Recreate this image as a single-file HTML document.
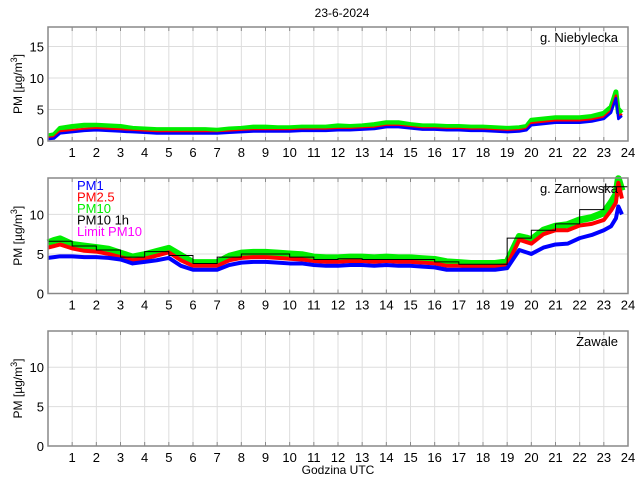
<!DOCTYPE html>
<html><head><meta charset="utf-8"><style>
body{margin:0;background:#fff;}
svg text{font-family:"Liberation Sans",sans-serif;font-size:12px;fill:#000;}
</style></head><body>
<svg id="c" width="640" height="480">
<text x="342" y="17" text-anchor="middle">23-6-2024</text>
<text x="338" y="474" text-anchor="middle">Godzina UTC</text>
</svg>
<script>
const times=[0,0.25,0.5,1,1.5,2,2.5,3,3.5,4,4.5,5,5.5,6,6.5,7,7.5,8,8.5,9,9.5,10,10.5,11,11.5,12,12.5,13,13.5,14,14.5,15,15.5,16,16.5,17,17.5,18,18.5,19,19.5,19.8,20,20.5,21,21.5,22,22.5,23,23.3,23.5,23.6,23.75];
const nPM1=[0.3,0.4,1.2,1.4,1.6,1.7,1.6,1.5,1.4,1.3,1.2,1.2,1.2,1.2,1.2,1.2,1.3,1.4,1.5,1.5,1.5,1.5,1.6,1.6,1.6,1.7,1.7,1.8,1.9,2.2,2.2,2.0,1.8,1.8,1.7,1.7,1.6,1.6,1.5,1.4,1.5,1.7,2.5,2.7,2.9,2.9,2.9,3.1,3.5,4.5,6.8,3.5,4.0];
const nPM25=[0.5,0.6,1.5,1.7,1.9,2.0,1.9,1.8,1.6,1.5,1.4,1.4,1.4,1.4,1.4,1.3,1.5,1.6,1.7,1.7,1.7,1.7,1.8,1.8,1.8,1.9,1.9,2.0,2.1,2.4,2.4,2.2,2.0,2.0,1.9,1.9,1.8,1.8,1.7,1.6,1.7,1.9,2.8,3.0,3.2,3.2,3.2,3.4,3.8,4.8,7.2,3.8,4.3];
const nPM10=[0.8,1.0,2.0,2.3,2.5,2.5,2.4,2.3,2.0,1.9,1.8,1.8,1.8,1.8,1.8,1.7,1.9,2.0,2.2,2.2,2.1,2.1,2.2,2.2,2.2,2.4,2.3,2.4,2.6,2.9,2.9,2.6,2.4,2.4,2.3,2.3,2.2,2.2,2.1,2.0,2.1,2.3,3.3,3.5,3.7,3.7,3.7,3.9,4.4,5.4,7.8,4.5,5.0];
const zPM1=[4.5,4.6,4.7,4.7,4.6,4.6,4.5,4.3,3.8,4.0,4.2,4.5,3.5,3.0,3.0,3.0,3.6,3.9,4.0,4.0,3.9,3.8,3.8,3.6,3.5,3.5,3.6,3.6,3.5,3.6,3.5,3.5,3.4,3.3,3.0,3.0,3.0,3.0,3.0,3.2,5.5,5.2,5.0,5.8,6.2,6.3,7.0,7.4,8.0,8.5,9.5,11.0,10.0];
const zPM25=[5.8,6.0,6.2,5.7,5.4,5.3,5.0,4.6,4.2,4.4,4.8,5.2,4.2,3.5,3.5,3.5,4.2,4.5,4.6,4.6,4.5,4.4,4.3,4.1,4.0,4.0,4.1,4.1,4.0,4.1,4.0,4.0,3.9,3.8,3.5,3.5,3.4,3.4,3.4,3.6,6.8,6.5,6.3,7.5,8.0,8.0,8.6,8.8,9.3,10.5,11.5,14.0,12.0];
const zPM10=[6.4,6.7,6.9,6.2,6.0,5.8,5.6,5.1,4.6,4.9,5.3,5.7,4.8,3.9,3.9,3.9,4.7,5.1,5.2,5.2,5.1,5.0,4.9,4.6,4.5,4.5,4.6,4.6,4.5,4.6,4.5,4.5,4.4,4.3,4.0,3.9,3.8,3.8,3.8,4.0,7.2,7.0,6.8,8.0,8.5,8.7,9.3,9.6,10.2,11.5,12.5,14.5,13.0];
const zHourly=[6.6,6.0,5.5,4.6,5.3,4.8,3.8,4.6,5.0,5.0,4.6,4.3,4.4,4.3,4.3,4.3,4.0,3.7,3.7,7.0,8.0,8.8,10.6,13.5];
const hourTicks=[1,2,3,4,5,6,7,8,9,10,11,12,13,14,15,16,17,18,19,20,21,22,23,24];

const NS='http://www.w3.org/2000/svg';
const svg=document.getElementById('c');
const X0=48,X1=628;
function xs(t){return X0+(X1-X0)*t/24;}
function mk(tag,attrs,parent){const e=document.createElementNS(NS,tag);for(const k in attrs)e.setAttribute(k,attrs[k]);(parent||svg).appendChild(e);return e;}

function panel(name,top,bot,ymax,yticks,label,series,hourly){
  const g=mk('g',{});
  
  
  const ys=v=>bot-(bot-top)*v/ymax;
  hourTicks.forEach(h=>{const x=xs(h);
    if(h<24){const l=mk('line',{x1:x,x2:x,y1:top,y2:bot,stroke:'#ddd','stroke-width':1},g);
    
    }
    mk('line',{x1:x,x2:x,y1:bot,y2:bot-4,stroke:'#888'},g);
    mk('line',{x1:x,x2:x,y1:top,y2:top+4,stroke:'#888'},g);
    const t=mk('text',{x:x,y:bot+16,'text-anchor':'middle',style:'font-size:13px'},g);t.textContent=h;
    
    
  });
  yticks.forEach(v=>{const y=ys(v);
    if(v>0){const l=mk('line',{x1:X0,x2:X1,y1:y,y2:y,stroke:'#ddd'},g);
    
    }
    const t=mk('text',{x:X0-4,y:y+5,'text-anchor':'end',style:'font-size:13px'},g);t.textContent=v;
    
    
  });
  series.forEach(s=>{
    const p=mk('polyline',{points:times.map((t,i)=>xs(t)+','+ys(s.v[i])).join(' '),fill:'none',stroke:s.c,'stroke-width':s.w,'stroke-linejoin':'round'},g);
    
    
  });
  if(hourly){
    let pts=[];hourly.forEach((v,i)=>{pts.push(xs(i)+','+ys(v));pts.push(xs(i+1)+','+ys(v));});
    const p=mk('polyline',{points:pts.join(' '),fill:'none',stroke:'#000','stroke-width':1},g);
    
    
  }
  mk('rect',{x:X0,y:top,width:X1-X0,height:bot-top,fill:'none',stroke:'#888','stroke-width':1.5},g);
  const lb=mk('text',{x:X1-10,y:top+15,'text-anchor':'end',style:'font-size:13px'},g);lb.textContent=label;
  
  
  const yt=mk('text',{x:22,y:(top+bot)/2,'text-anchor':'middle',transform:'rotate(-90 22 '+((top+bot)/2)+')'},g);
  yt.innerHTML='PM [µg/m<tspan dy="-5" font-size="9">3</tspan><tspan dy="5">]</tspan>';
  
  
  return g;
}
panel('panel-niebylecka',27,141,18.1,[0,5,10,15],'g. Niebylecka',
 [{n:'pm10-line',v:nPM10,c:'#00ee00',w:5},{n:'pm25-line',v:nPM25,c:'#ff0000',w:2.5},{n:'pm1-line',v:nPM1,c:'#0000ff',w:2.5}]);
panel('panel-zarnowska',178,293.5,14.6,[0,5,10],'g. Zarnowska',
 [{n:'pm10-line',v:zPM10,c:'#00ee00',w:7},{n:'pm25-line',v:zPM25,c:'#ff0000',w:4},{n:'pm1-line',v:zPM1,c:'#0000ff',w:4}],zHourly);
panel('panel-zawale',331,446,14.6,[0,5,10],'Zawale',[]);
const leg=[['PM1','#0000ff'],['PM2.5','#ff0000'],['PM10','#00ee00'],['PM10 1h','#000'],['Limit PM10','#ff00ff']];
leg.forEach((l,i)=>{const t=mk('text',{x:77,y:190+i*11.5,style:'fill:'+l[1]+';font-size:13px'});t.textContent=l[0];
 
 });
</script>
</body></html>
